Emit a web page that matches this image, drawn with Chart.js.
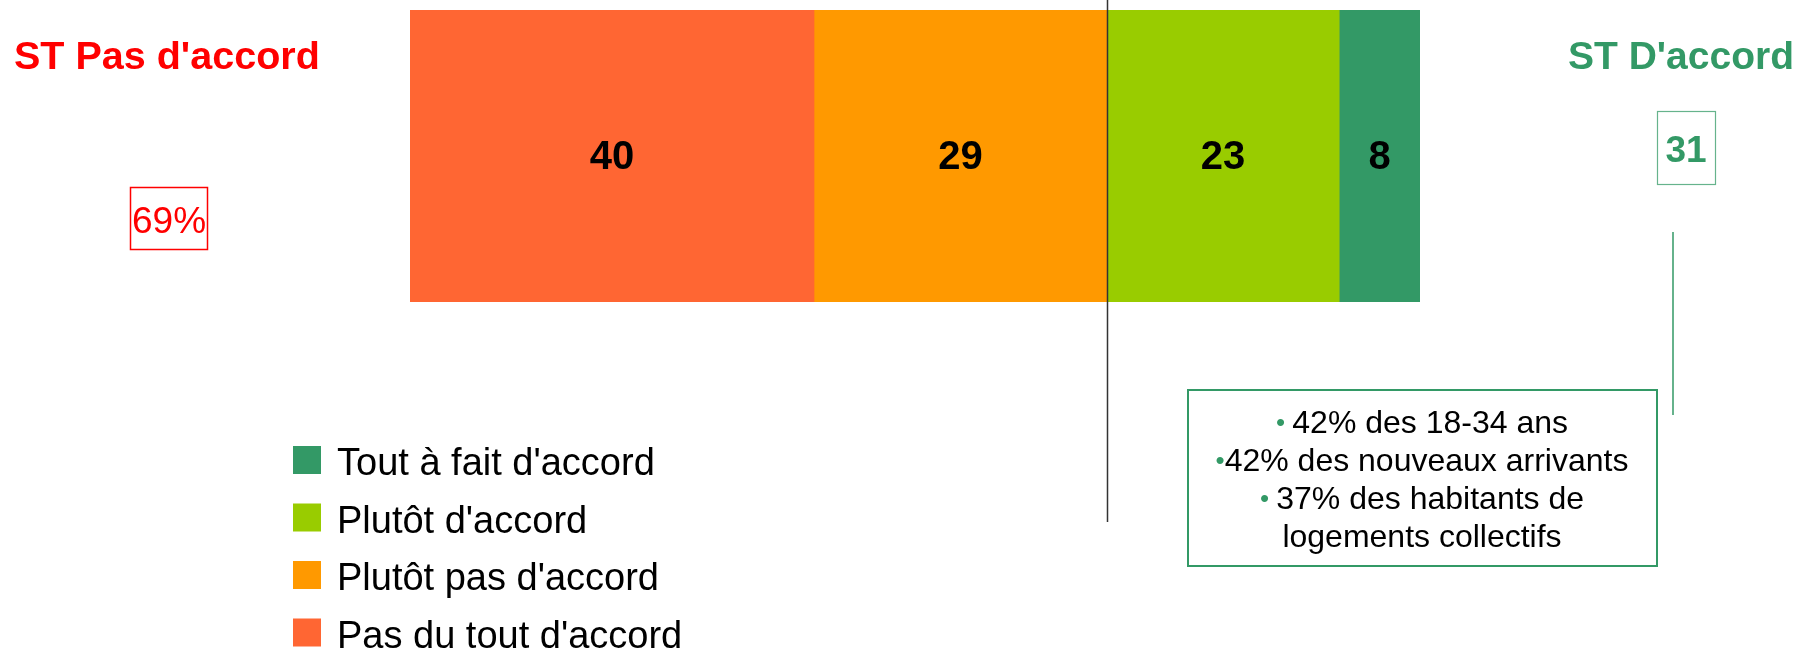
<!DOCTYPE html>
<html>
<head>
<meta charset="utf-8">
<script src="https://cdn.jsdelivr.net/npm/chart.js@4/dist/chart.umd.min.js"></script>
<style>
  html, body { margin: 0; padding: 0; background: #ffffff; }
  #wrap { position: relative; width: 1801px; height: 648px; }
  canvas { display: block; }
</style>
</head>
<body>
<div id="wrap"><canvas id="c" width="1801" height="648"></canvas></div>
<script>
// ---- Data ----
const categories = [''];
const seriesLabels = ["Pas du tout d'accord", "Plutôt pas d'accord", "Plutôt d'accord", "Tout à fait d'accord"];
const seriesValues = [40, 29, 23, 8];
const seriesColors = ['#FF6633', '#FF9900', '#99CC00', '#339966'];
const disagreeTitle = "ST Pas d'accord";
const agreeTitle = "ST D'accord";
const noteLines = [
  ['• ', '42% des 18-34 ans'],
  ['•', '42% des nouveaux arrivants'],
  ['• ', '37% des habitants de'],
  ['', 'logements collectifs']
];

const FONT = "'Liberation Sans', Arial, sans-serif";
const disagreeSum = seriesValues[0] + seriesValues[1];
const agreeSum = seriesValues[2] + seriesValues[3];
const total = seriesValues.reduce((a, b) => a + b, 0);

const datasets = seriesLabels.map((lab, i) => ({
  label: lab,
  data: [seriesValues[i]],
  backgroundColor: seriesColors[i],
  borderWidth: 0,
  barPercentage: 1,
  categoryPercentage: 1
}));

const overlay = {
  id: 'overlay',
  afterDatasetsDraw(chart) {
    const ctx = chart.ctx;
    const xs = chart.scales.x;
    ctx.save();
    ctx.fillStyle = '#000';
    ctx.font = 'bold 40px ' + FONT;
    ctx.textAlign = 'center';
    ctx.textBaseline = 'middle';
    chart.data.datasets.forEach((ds, i) => {
      const el = chart.getDatasetMeta(i).data[0];
      const cx = (el.x + el.base) / 2;
      ctx.fillText(String(ds.data[0]), cx, el.y + 2);
    });
    const lx = Math.round(xs.getPixelForValue(disagreeSum)) + 0.5;
    ctx.strokeStyle = '#333333';
    ctx.lineWidth = 1.5;
    ctx.beginPath();
    ctx.moveTo(lx, 0);
    ctx.lineTo(lx, 522);
    ctx.stroke();
    ctx.restore();
  },
  afterDraw(chart) {
    const ctx = chart.ctx;
    ctx.save();
    ctx.font = '38px ' + FONT;
    ctx.textAlign = 'left';
    ctx.textBaseline = 'alphabetic';
    const order = [3, 2, 1, 0];
    order.forEach((idx, r) => {
      const base = 475 + r * 57.5;
      ctx.fillStyle = seriesColors[idx];
      ctx.fillRect(293, base - 29, 28, 28);
      ctx.fillStyle = '#000';
      ctx.fillText(seriesLabels[idx], 337, base);
    });

    ctx.fillStyle = '#FF0000';
    ctx.font = 'bold 39.5px ' + FONT;
    ctx.fillText(disagreeTitle, 14, 69);
    ctx.strokeStyle = '#FF0000';
    ctx.lineWidth = 1.5;
    ctx.strokeRect(130.5, 187.5, 77, 62);
    ctx.font = '37px ' + FONT;
    ctx.textAlign = 'center';
    ctx.fillText(disagreeSum + '%', 169, 233);

    ctx.fillStyle = '#339966';
    ctx.textAlign = 'left';
    ctx.font = 'bold 39px ' + FONT;
    ctx.fillText(agreeTitle, 1568, 69);
    ctx.strokeStyle = '#66B38C';
    ctx.lineWidth = 1.2;
    ctx.strokeRect(1657.5, 111.5, 58, 73);
    ctx.font = 'bold 37px ' + FONT;
    ctx.textAlign = 'center';
    ctx.fillText(String(agreeSum), 1686, 162);

    ctx.strokeStyle = '#339966';
    ctx.lineWidth = 1.5;
    ctx.beginPath();
    ctx.moveTo(1673, 232);
    ctx.lineTo(1673, 415);
    ctx.stroke();

    ctx.lineWidth = 2;
    ctx.strokeRect(1188, 390, 469, 176);
    const cx = 1422;
    noteLines.forEach((ln, i) => {
      const base = 433 + i * 38;
      ctx.font = '26px ' + FONT;
      const wB = ln[0] ? ctx.measureText(ln[0]).width : 0;
      ctx.font = '32px ' + FONT;
      const wT = ctx.measureText(ln[1]).width;
      let x = cx - (wB + wT) / 2;
      ctx.textAlign = 'left';
      if (ln[0]) {
        ctx.fillStyle = '#339966';
        ctx.font = '26px ' + FONT;
        ctx.fillText(ln[0], x, base - 2);
      }
      ctx.fillStyle = '#000';
      ctx.font = '32px ' + FONT;
      ctx.fillText(ln[1], x + wB, base);
    });
    ctx.restore();
  }
};

new Chart(document.getElementById('c'), {
  type: 'bar',
  data: { labels: categories, datasets: datasets },
  options: {
    indexAxis: 'y',
    responsive: false,
    animation: false,
    devicePixelRatio: 1,
    layout: { padding: { left: 410, right: 381, top: 10, bottom: 346 } },
    plugins: { legend: { display: false }, tooltip: { enabled: false } },
    scales: {
      x: { stacked: true, min: 0, max: total, display: false },
      y: { stacked: true, display: false }
    }
  },
  plugins: [overlay]
});
</script>
</body>
</html>
